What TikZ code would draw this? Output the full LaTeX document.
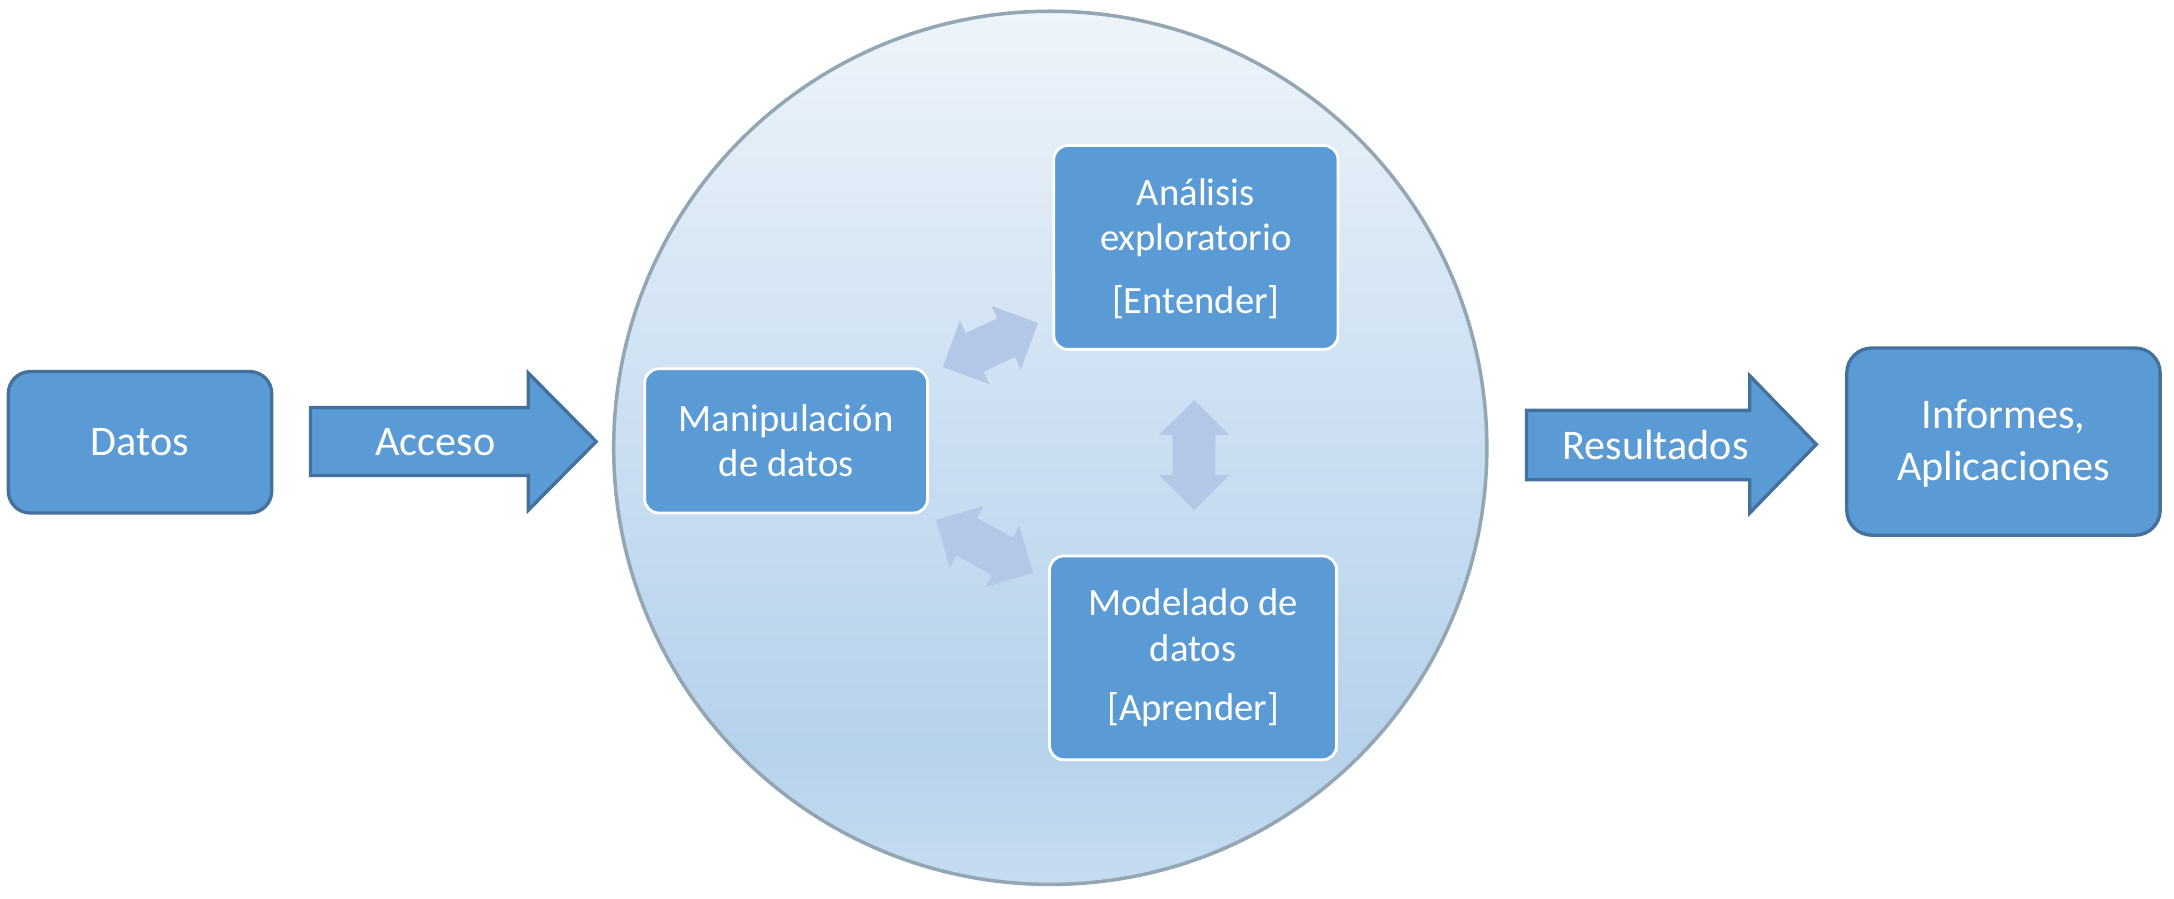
\documentclass[tikz,border=0pt]{standalone}
\usepackage{fontspec}
\setmainfont{Carlito}
\usetikzlibrary{fit,calc}
\definecolor{boxfill}{HTML}{5B9BD5}
\definecolor{boxline}{HTML}{41719C}
\definecolor{dblfill}{HTML}{B4C7E7}
\definecolor{circline}{HTML}{93A6B3}
\definecolor{cTop}{HTML}{EEF4FA}
\definecolor{cMid}{HTML}{D0E2F3}
\definecolor{cLow}{HTML}{B7D2EB}
\definecolor{cBot}{HTML}{C6DCF0}
\pgfdeclareverticalshading{circshade}{100bp}{color(0bp)=(cBot); color(25bp)=(cBot); color(33bp)=(cLow); color(55bp)=(cMid); color(75bp)=(cTop); color(100bp)=(cTop)}
\newcommand\DblArr[4]{%
  \fill[dblarrow, shift={(#1,#2)}, rotate=#3]
    (-#4,0) -- ({-#4+25.2},25.25) -- ({-#4+25.2},15.4) -- ({#4-25.2},15.4)
    -- ({#4-25.2},25.25) -- (#4,0) -- ({#4-25.2},-25.25) -- ({#4-25.2},-15.4)
    -- ({-#4+25.2},-15.4) -- ({-#4+25.2},-25.25) -- cycle;}
\begin{document}
\begin{tikzpicture}[x=0.013865cm, y=-0.013865cm,
  outerbox/.style={draw=boxline, line width=0.95pt, fill=boxfill, rounded corners=0.22cm,
    inner sep=0pt},
  innerbox/.style={draw=white, line width=0.8pt, fill=boxfill, rounded corners=0.14cm,
    inner sep=0pt},
  outertext/.style={text=white, font=\fontsize{12}{14.9}\selectfont, align=center, inner sep=0pt},
  innertext/.style={text=white, font=\fontsize{11}{12.9}\selectfont, align=center, inner sep=0pt},
  blockarrow/.style={draw=boxline, line width=0.95pt, fill=boxfill, line join=miter},
  dblarrow/.style={fill=dblfill},
]
\useasboundingbox (0,0) rectangle (1568,647.7);

% big circle
\node[circle, draw=circline, line width=1pt, shade, shading=circshade,
  minimum size=8.735cm, inner sep=0pt] (circ) at (757.5,323) {};

% outer boxes
\node[outerbox, fit={(6,268) (196,370)}] (datos) {};
\node[outertext] (datosT) at (datos.center) {Datos};
\node[outerbox, fit={(1332,251) (1558,386)}, rounded corners=0.25cm] (informes) {};
\node[outertext] (informesT) at ($(informes.center)+(0,1.5)$) {Informes,\\Aplicaciones};

% block arrows
\draw[blockarrow] (224,294) -- (381,294) -- (381,269) -- (430,318.5) -- (381,368)
  -- (381,343) -- (224,343) -- cycle;
\node[outertext] (acceso) at (314,319) {Acceso};
\draw[blockarrow] (1101,296) -- (1262,296) -- (1262,271) -- (1310,320.5) -- (1262,370)
  -- (1262,346) -- (1101,346) -- cycle;
\node[outertext] (resultados) at (1194,321) {Resultados};

% inner boxes
\node[innerbox, fit={(465,266) (669,370)}] (manip) {};
\node[innertext] (manipT) at ($(manip.center)+(0,0)$) {Manipulación\\de datos};
\node[innerbox, fit={(760,105) (965,252)}] (analisis) {};
\node[innertext] (analisisT) at ($(analisis.center)+(0,1)$) {Análisis\\exploratorio\\[5pt]{[}Entender]};
\node[innerbox, fit={(757,401) (964,548)}] (modelado) {};
\node[innertext] (modeladoT) at ($(modelado.center)+(0,0)$) {Modelado de\\datos\\[4pt]{[}Aprender]};

% double arrows
\DblArr{714.35}{248.85}{24.8}{37.75}
\DblArr{710.05}{394.15}{-28.7}{39.85}
\DblArr{861.2}{328.15}{90}{39.65}
\end{tikzpicture}
\end{document}
